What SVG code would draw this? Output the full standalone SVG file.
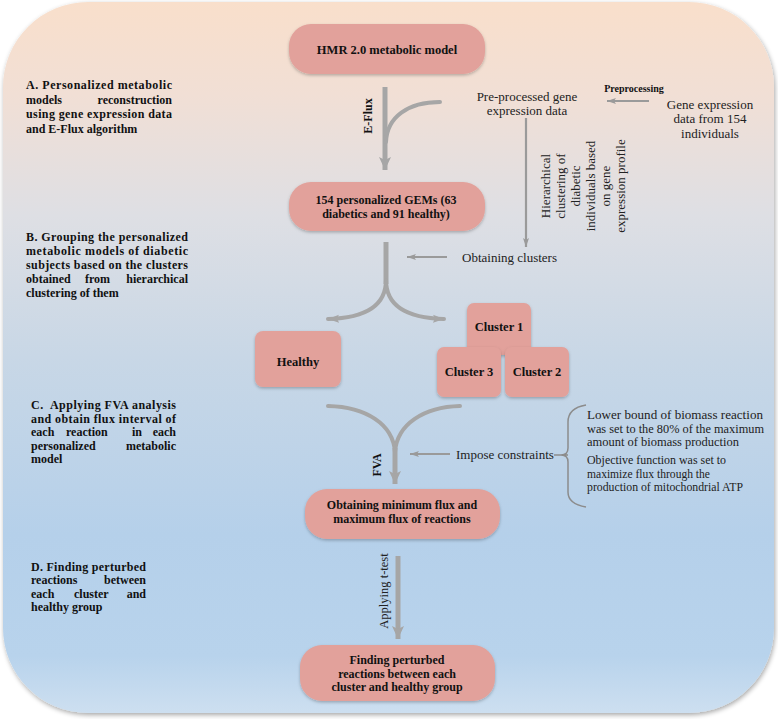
<svg xmlns="http://www.w3.org/2000/svg" width="778" height="719" viewBox="0 0 778 719">
<defs>
<linearGradient id="bg" x1="0" y1="0" x2="0" y2="1">
<stop offset="0" stop-color="#f9dfcb"/>
<stop offset="0.13" stop-color="#f1dfd5"/>
<stop offset="0.3" stop-color="#dedfe4"/>
<stop offset="0.5" stop-color="#c8d7e6"/>
<stop offset="0.75" stop-color="#b5d0ea"/>
<stop offset="0.92" stop-color="#b8d3ec"/>
<stop offset="1" stop-color="#cddff0"/>
</linearGradient>
<filter id="bgsh" x="-5%" y="-5%" width="110%" height="110%">
<feGaussianBlur in="SourceAlpha" stdDeviation="2.5"/>
<feOffset dx="1" dy="2"/>
<feComponentTransfer><feFuncA type="linear" slope="0.35"/></feComponentTransfer>
<feMerge><feMergeNode/><feMergeNode in="SourceGraphic"/></feMerge>
</filter>
<filter id="nsh" x="-10%" y="-10%" width="120%" height="130%">
<feDropShadow dx="0" dy="1.5" stdDeviation="1.5" flood-color="#000" flood-opacity="0.25"/>
</filter>
<marker id="big" markerUnits="userSpaceOnUse" markerWidth="14" markerHeight="14" refX="13" refY="7" orient="auto">
<path d="M0,1 L13,7 L0,13 L3,7 z" fill="#a6a6a6"/>
</marker>
<marker id="mid" markerUnits="userSpaceOnUse" markerWidth="12" markerHeight="10" refX="11" refY="5" orient="auto">
<path d="M0,1 L11,5 L0,9 L2,5 z" fill="#a6a6a6"/>
</marker>
<marker id="sm" markerUnits="userSpaceOnUse" markerWidth="10" markerHeight="8" refX="9" refY="4" orient="auto">
<path d="M0,1 L9,4 L0,7 L2,4 z" fill="#9a9a9a"/>
</marker>
</defs>
<style>
.node rect{fill:#e2a19b;filter:url(#nsh)}
.nt{font-family:"Liberation Serif","Times New Roman",serif;font-weight:bold;font-size:12px;fill:#111;text-anchor:middle}
.nt1{font-size:12.5px}
.lt{font-family:"Liberation Serif","Times New Roman",serif;font-weight:bold;font-size:12px;fill:#111}
.rt{font-family:"Liberation Serif","Times New Roman",serif;font-size:12px;fill:#222}
.thick{fill:none;stroke:#a6a6a6;stroke-width:5}
.curve{fill:none;stroke:#a6a6a6;stroke-width:4;stroke-linecap:round}
.thin{fill:none;stroke:#9a9a9a;stroke-width:2.2}
</style>

<rect x="3" y="2" width="771" height="711" rx="85" ry="85" fill="url(#bg)" filter="url(#bgsh)"/>

<g id="labels-left">
<text class="lt" y="89"><tspan x="26" textLength="146" lengthAdjust="spacing">A. Personalized metabolic</tspan></text>
<text class="lt" x="26" y="103.5">models</text>
<text class="lt" x="172" y="103.5" text-anchor="end">reconstruction</text>
<text class="lt" y="118"><tspan x="26" textLength="146" lengthAdjust="spacing">using gene expression data</tspan></text>
<text class="lt" x="26" y="132.5">and E-Flux algorithm</text>

<text class="lt" y="241"><tspan x="26" textLength="162" lengthAdjust="spacing">B. Grouping the personalized</tspan></text>
<text class="lt" y="255"><tspan x="26" textLength="162" lengthAdjust="spacing">metabolic models of diabetic</tspan></text>
<text class="lt" y="269"><tspan x="26" textLength="162" lengthAdjust="spacing">subjects based on the clusters</tspan></text>
<text class="lt" x="26" y="283">obtained</text>
<text class="lt" x="85" y="283">from</text>
<text class="lt" x="188" y="283" text-anchor="end">hierarchical</text>
<text class="lt" x="26" y="297">clustering of them</text>

<text class="lt" y="409" xml:space="preserve"><tspan x="31" textLength="145" lengthAdjust="spacing">C.  Applying FVA analysis</tspan></text>
<text class="lt" y="422.5"><tspan x="31" textLength="145" lengthAdjust="spacing">and obtain flux interval of</tspan></text>
<text class="lt" x="31" y="436">each</text>
<text class="lt" x="66" y="436">reaction</text>
<text class="lt" x="132" y="436">in</text>
<text class="lt" x="176" y="436" text-anchor="end">each</text>
<text class="lt" x="31" y="449.5">personalized</text>
<text class="lt" x="176" y="449.5" text-anchor="end">metabolic</text>
<text class="lt" x="31" y="463">model</text>

<text class="lt" y="570.5"><tspan x="31" textLength="115" lengthAdjust="spacing">D. Finding perturbed</tspan></text>
<text class="lt" x="31" y="584">reactions</text>
<text class="lt" x="146" y="584" text-anchor="end">between</text>
<text class="lt" x="31" y="597.5">each</text>
<text class="lt" x="74" y="597.5">cluster</text>
<text class="lt" x="146" y="597.5" text-anchor="end">and</text>
<text class="lt" x="31" y="611">healthy group</text>
</g>

<g id="connectors">
<path class="thick" d="M385,87 L385,170" marker-end="url(#big)"/>
<path class="curve" d="M440,102 C408,102 387,117 386,142" stroke-width="3.5"/>
<path class="thick" d="M386,242 L386,284" stroke-width="6"/>
<path class="curve" d="M386,280 C386,305 366,318 328,319" marker-end="url(#mid)"/>
<path class="curve" d="M386,280 C386,305 406,318 444,319" marker-end="url(#mid)"/>
<path class="curve" d="M328,406 C366,407 393,424 395,452" stroke-width="5"/>
<path class="curve" d="M460,406 C424,407 397,424 395,452" stroke-width="5"/>
<path class="thick" d="M395,448 L395,484" stroke-width="4.5" marker-end="url(#big)"/>
<path class="thick" d="M398,556 L398,639" marker-end="url(#big)"/>
<path class="thin" d="M526,118 L526,247" marker-end="url(#sm)"/>
<path class="thin" d="M649,101 L607,101" marker-end="url(#sm)"/>
<path class="thin" d="M447,257 L407,257" marker-end="url(#sm)"/>
<path class="thin" d="M450,454 L410,454" marker-end="url(#sm)"/>
<path d="M554,455 L568,455 M586,405 Q568,408 568,422 L568,448 Q568,455 561,455 Q568,455 568,462 L568,492 Q568,504 586,507" fill="none" stroke="#8c8c8c" stroke-width="1.5"/>
</g>

<g id="connector-labels">
<text class="lt" style="font-size:12px" text-anchor="middle" transform="rotate(-90 372 116)" x="372" y="116">E-Flux</text>
<text class="lt" style="font-size:12px" text-anchor="middle" transform="rotate(-90 381 465)" x="381" y="465">FVA</text>
<text class="rt" style="font-size:12.5px" text-anchor="middle" transform="rotate(-90 388 591)" x="388" y="591">Applying t-test</text>
<text class="lt" style="font-size:10px" x="634" y="92" text-anchor="middle">Preprocessing</text>
<text class="rt" style="font-size:13px" x="462" y="262">Obtaining clusters</text>
<text class="rt" style="font-size:13px" x="456" y="459">Impose constraints</text>
<g text-anchor="middle">
<text class="rt" style="font-size:13px" transform="rotate(-90 550 186)" x="550" y="186">Hierarchical</text>
<text class="rt" style="font-size:13px" transform="rotate(-90 565 186)" x="565" y="186">clustering of</text>
<text class="rt" style="font-size:13px" transform="rotate(-90 580 186)" x="580" y="186">diabetic</text>
<text class="rt" style="font-size:13px" transform="rotate(-90 595 186)" x="595" y="186">individuals based</text>
<text class="rt" style="font-size:13px" transform="rotate(-90 610 186)" x="610" y="186">on gene</text>
<text class="rt" style="font-size:13px" transform="rotate(-90 625 186)" x="625" y="186">expression profile</text>
</g>
</g>

<g id="data-preprocessed">
<text class="rt" style="font-size:13px" x="527" y="101" text-anchor="middle">Pre-processed gene</text>
<text class="rt" style="font-size:13px" x="527" y="115" text-anchor="middle">expression data</text>
</g>
<g id="data-raw">
<text class="rt" style="font-size:13px" x="710" y="108.5" text-anchor="middle">Gene expression</text>
<text class="rt" style="font-size:13px" x="710" y="123" text-anchor="middle">data from 154</text>
<text class="rt" style="font-size:13px" x="710" y="137.5" text-anchor="middle">individuals</text>
</g>
<g id="constraints">
<text class="rt" x="587" y="419"><tspan textLength="176" lengthAdjust="spacingAndGlyphs">Lower bound of biomass reaction</tspan></text>
<text class="rt" x="587" y="432.5"><tspan textLength="177" lengthAdjust="spacingAndGlyphs">was set to the 80% of the maximum</tspan></text>
<text class="rt" x="587" y="446"><tspan textLength="152" lengthAdjust="spacingAndGlyphs">amount of biomass production</tspan></text>
<text class="rt" x="587" y="464"><tspan textLength="139" lengthAdjust="spacingAndGlyphs">Objective function was set to</tspan></text>
<text class="rt" x="587" y="477.5"><tspan textLength="123" lengthAdjust="spacingAndGlyphs">maximize flux through the</tspan></text>
<text class="rt" x="587" y="491"><tspan textLength="156" lengthAdjust="spacingAndGlyphs">production of mitochondrial ATP</tspan></text>
</g>

<g id="node-hmr" class="node">
<rect x="289" y="24" width="196" height="50" rx="22"/>
<text class="nt nt1" x="387" y="53.5">HMR 2.0 metabolic model</text>
</g>
<g id="node-gems" class="node">
<rect x="289" y="182" width="196" height="49" rx="22"/>
<text class="nt" x="386" y="204">154 personalized GEMs (63</text>
<text class="nt" x="386" y="217.5">diabetics and 91 healthy)</text>
</g>
<g id="node-healthy" class="node">
<rect x="255" y="331" width="86" height="56" rx="8"/>
<text class="nt nt1" x="298" y="366">Healthy</text>
</g>
<g id="node-cluster1" class="node">
<rect x="467" y="303" width="64" height="52" rx="7"/>
<text class="nt nt1" x="499" y="331">Cluster 1</text>
</g>
<g id="node-cluster3" class="node">
<rect x="437" y="347" width="64" height="50" rx="7"/>
<text class="nt nt1" x="469" y="376">Cluster 3</text>
</g>
<g id="node-cluster2" class="node">
<rect x="505" y="347" width="64" height="50" rx="7"/>
<text class="nt nt1" x="537" y="376">Cluster 2</text>
</g>
<g id="node-fva" class="node">
<rect x="305" y="489" width="195" height="50" rx="22"/>
<text class="nt" x="402" y="509">Obtaining minimum flux and</text>
<text class="nt" x="402" y="523">maximum flux of reactions</text>
</g>
<g id="node-perturbed" class="node">
<rect x="300" y="645" width="195" height="56" rx="22"/>
<text class="nt" x="397" y="664">Finding perturbed</text>
<text class="nt" x="397" y="677.5">reactions between each</text>
<text class="nt" x="397" y="691">cluster and healthy group</text>
</g>
</svg>
